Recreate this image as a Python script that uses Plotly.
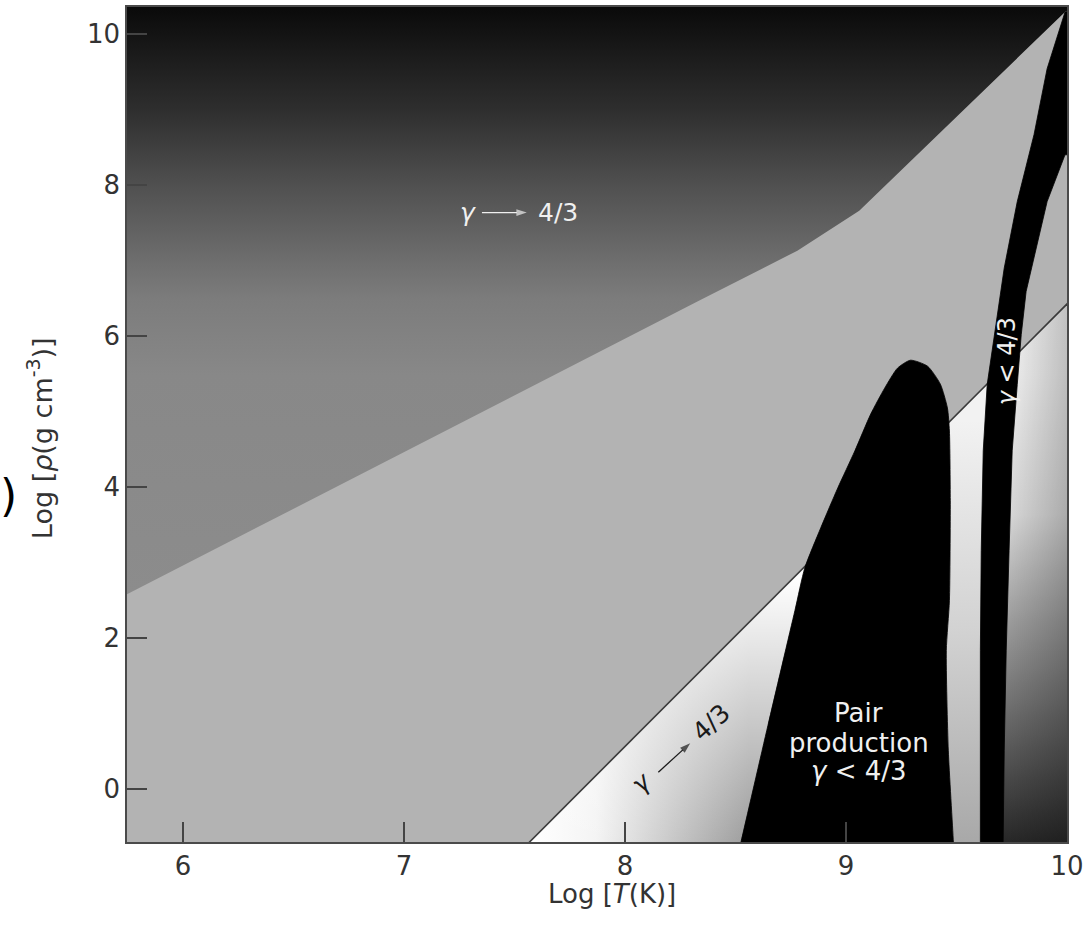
import plotly.graph_objects as go

# ---------------- data ----------------
X_RANGE = [5.747, 10.0]
Y_RANGE = [-0.70, 10.357]
x_ticks = [6, 7, 8, 9, 10]
y_ticks = [0, 2, 4, 6, 8, 10]

# boundary of the degenerate (gamma -> 4/3) region, upper left
deg_x = [5.5, 5.747, 8.33, 8.78, 9.06, 9.991, 10.2, 10.2, 5.5]
deg_y = [2.20, 2.58, 6.46, 7.13, 7.66, 10.29, 10.6, 10.6, 10.6]

# radiation-pressure boundary line
rad_x = [7.466, 10.2]
rad_y = [-1.0, 7.01]

# regions below the radiation line (three gradient pieces)
regA_x = [7.466, 9.0, 9.0]
regA_y = [-1.0, 3.49, -1.0]
regB_x = [9.3, 9.3, 9.68, 9.68]
regB_y = [-1.0, 4.37, 5.49, -1.0]
regC_x = [9.68, 9.68, 10.2, 10.2]
regC_y = [-1.0, 5.49, 7.01, -1.0]

# pair-production instability region
pair_x = [8.501, 8.525, 8.647, 8.769, 8.814, 8.886, 8.963, 9.040, 9.112, 9.175,
          9.233, 9.292, 9.369, 9.427, 9.459, 9.468, 9.472, 9.468, 9.454,
          9.463, 9.486, 9.49]
pair_y = [-1.0, -0.70, 0.845, 2.365, 2.933, 3.461, 3.989, 4.478, 4.967, 5.310,
          5.575, 5.680, 5.601, 5.363, 5.046, 4.742, 3.818, 2.497, 1.836,
          0.515, -0.70, -1.0]

# gamma < 4/3 band (upper right)
band_x = [9.991, 9.910, 9.851, 9.775, 9.716, 9.671, 9.639, 9.621, 9.612,
          9.608, 9.608, 9.608,
          9.711, 9.711, 9.716, 9.725, 9.738, 9.752, 9.775, 9.793, 9.815,
          9.856, 9.910, 9.991, 10.2, 10.2]
band_y = [10.29, 9.54, 8.67, 7.78, 6.90, 6.02, 5.36, 4.48, 3.16,
          1.84, -0.70, -1.0,
          -1.0, -0.70, 0.515, 1.84, 3.16, 4.48, 5.36, 6.02, 6.59,
          7.12, 7.78, 8.40, 8.40, 10.6]

# label positions
lab1_gamma = (7.290, 7.635)
lab1_frac = (7.696, 7.635)
lab1_arrow_x = [7.353, 7.556]
lab1_arrow_y = [7.635, 7.635]
lab2_gamma = (8.074, 0.092)
lab2_frac = (8.390, 0.885)
lab2_arrow_x = [8.151, 8.295]
lab2_arrow_y = [0.225, 0.608]
band_label = (9.729, 5.667)
pair_label_x = 9.058
pair_label_lines = ["Pair", "production", "<i>γ</i> < 4/3"]
pair_label_y = [1.01, 0.608, 0.238]

x_title = "Log [<i>T</i>(K)]"
y_title = "Log [<i>ρ</i>(g cm<sup>-3</sup>)]"

FONT = "DejaVu Sans"

fig = go.Figure()

# dark degenerate region with vertical gradient
fig.add_trace(go.Scatter(
    x=deg_x, y=deg_y, mode="lines", fill="toself", line=dict(width=0),
    fillgradient=dict(type="vertical", start=2.58, stop=10.357,
                      colorscale=[[0.0, "#8c8c8c"], [0.375, "#888888"],
                                  [0.504, "#7c7c7c"], [0.568, "#6e6e6e"],
                                  [0.697, "#505050"], [0.826, "#2e2e2e"],
                                  [1.0, "#0a0a0a"]]),
    hoverinfo="skip", showlegend=False))

# region A (left white triangle)
fig.add_trace(go.Scatter(
    x=regA_x, y=regA_y, mode="lines", fill="toself", line=dict(width=0),
    fillgradient=dict(type="horizontal", start=7.568, stop=8.55,
                      colorscale=[[0, "#ffffff"], [0.3, "#f4f4f4"], [1, "#9c9c9c"]]),
    hoverinfo="skip", showlegend=False))
fig.add_trace(go.Scatter(
    x=regA_x, y=regA_y, mode="lines", fill="toself", line=dict(width=0),
    fillgradient=dict(type="vertical", start=-0.7, stop=2.83,
                      colorscale=[[0, "rgba(255,255,255,0)"], [1, "rgba(255,255,255,1)"]]),
    hoverinfo="skip", showlegend=False))

# region B (strip between pair region and band)
fig.add_trace(go.Scatter(
    x=regB_x, y=regB_y, mode="lines", fill="toself", line=dict(width=0),
    fillgradient=dict(type="vertical", start=-0.70, stop=4.9,
                      colorscale=[[0, "#a8a8a8"], [0.5, "#d2d2d2"], [1, "#f2f2f2"]]),
    hoverinfo="skip", showlegend=False))

# region C (right of band)
fig.add_trace(go.Scatter(
    x=regC_x, y=regC_y, mode="lines", fill="toself", line=dict(width=0),
    fillgradient=dict(type="vertical", start=-0.70, stop=6.42,
                      colorscale=[[0, "#262626"], [0.426, "#a0a0a0"],
                                  [0.611, "#d8d8d8"], [0.87, "#f0f0f0"], [1, "#f5f5f5"]]),
    hoverinfo="skip", showlegend=False))
fig.add_trace(go.Scatter(
    x=regC_x, y=regC_y, mode="lines", fill="toself", line=dict(width=0),
    fillgradient=dict(type="horizontal", start=9.72, stop=10.0,
                      colorscale=[[0, "rgba(0,0,0,0)"], [1, "rgba(0,0,0,0.22)"]]),
    hoverinfo="skip", showlegend=False))

# radiation boundary line
fig.add_trace(go.Scatter(
    x=rad_x, y=rad_y, mode="lines", line=dict(color="#3a3a3a", width=1.6),
    hoverinfo="skip", showlegend=False))

# pair production region
fig.add_trace(go.Scatter(
    x=pair_x, y=pair_y, mode="lines", fill="toself", fillcolor="#000000",
    line=dict(width=0.8, color="#000000", shape="spline", smoothing=0.6),
    hoverinfo="skip", showlegend=False))

# gamma < 4/3 band
fig.add_trace(go.Scatter(
    x=band_x, y=band_y, mode="lines", fill="toself", fillcolor="#000000",
    line=dict(width=0.8, color="#000000"), hoverinfo="skip", showlegend=False))

# arrows of the two "gamma -> 4/3" labels
for ax_, ay_, col in [(lab1_arrow_x, lab1_arrow_y, "#f0f0f0"),
                      (lab2_arrow_x, lab2_arrow_y, "#1a1a1a")]:
    fig.add_trace(go.Scatter(
        x=ax_, y=ay_, mode="lines+markers",
        line=dict(color=col, width=1.3),
        marker=dict(symbol="arrow", size=[0, 11], angleref="previous", color=col,
                    line=dict(width=0)),
        hoverinfo="skip", showlegend=False))

annotations = []

def txt(x, y, s, color, size, angle=0):
    annotations.append(dict(x=x, y=y, xref="x", yref="y", text=s, showarrow=False,
                            textangle=angle, xanchor="center", yanchor="middle",
                            font=dict(family=FONT, size=size, color=color)))

# label in dark region
txt(*lab1_gamma, "<i>γ</i>", "#f0f0f0", 25)
txt(*lab1_frac, "4/3", "#f0f0f0", 25)

# rotated label in white triangle
txt(*lab2_gamma, "<i>γ</i>", "#1a1a1a", 25, -42)
txt(*lab2_frac, "4/3", "#1a1a1a", 25, -42)

# band label
txt(*band_label, "<i>γ</i> < 4/3", "#f0f0f0", 24, -90)

# pair production label
for s, yy in zip(pair_label_lines, pair_label_y):
    txt(pair_label_x, yy, s, "#f0f0f0", 26)

# axis titles (placed as in the reference)
annotations.append(dict(x=0.5164, y=-0.0625, xref="paper", yref="paper", text=x_title,
                        showarrow=False, xanchor="center", yanchor="middle",
                        font=dict(family=FONT, size=26, color="#333333")))
annotations.append(dict(x=-0.0923, y=0.4839, xref="paper", yref="paper", text=y_title,
                        showarrow=False, xanchor="center", yanchor="middle", textangle=-90,
                        font=dict(family=FONT, size=27, color="#333333")))

# parenthesis at the far left edge of the scan
annotations.append(dict(x=-0.1256, y=0.4146, xref="paper", yref="paper", text=")",
                        showarrow=False, xanchor="center", yanchor="middle",
                        font=dict(family=FONT, size=44, color="#000000")))

fig.update_layout(
    width=1089, height=937,
    margin=dict(l=127, r=19, t=5, b=95),
    paper_bgcolor="#ffffff", plot_bgcolor="#b3b3b3",
    font=dict(family=FONT, size=26, color="#333333"),
    annotations=annotations,
    showlegend=False,
)
fig.update_xaxes(
    range=X_RANGE, tickvals=x_ticks, ticktext=[str(v) for v in x_ticks],
    ticks="inside", ticklen=20, tickwidth=2, tickcolor="#444444",
    showline=True, linecolor="#4a4a4a", linewidth=1.6, mirror=True,
    showgrid=False, zeroline=False,
)
fig.update_yaxes(
    range=Y_RANGE, tickvals=y_ticks, ticktext=[str(v) for v in y_ticks],
    ticks="inside", ticklen=20, tickwidth=2, tickcolor="#444444",
    showline=True, linecolor="#4a4a4a", linewidth=1.6, mirror=True,
    showgrid=False, zeroline=False,
)

fig.write_html("out.html", config={"displayModeBar": False},
               post_script="document.body.style.margin='0px';")
